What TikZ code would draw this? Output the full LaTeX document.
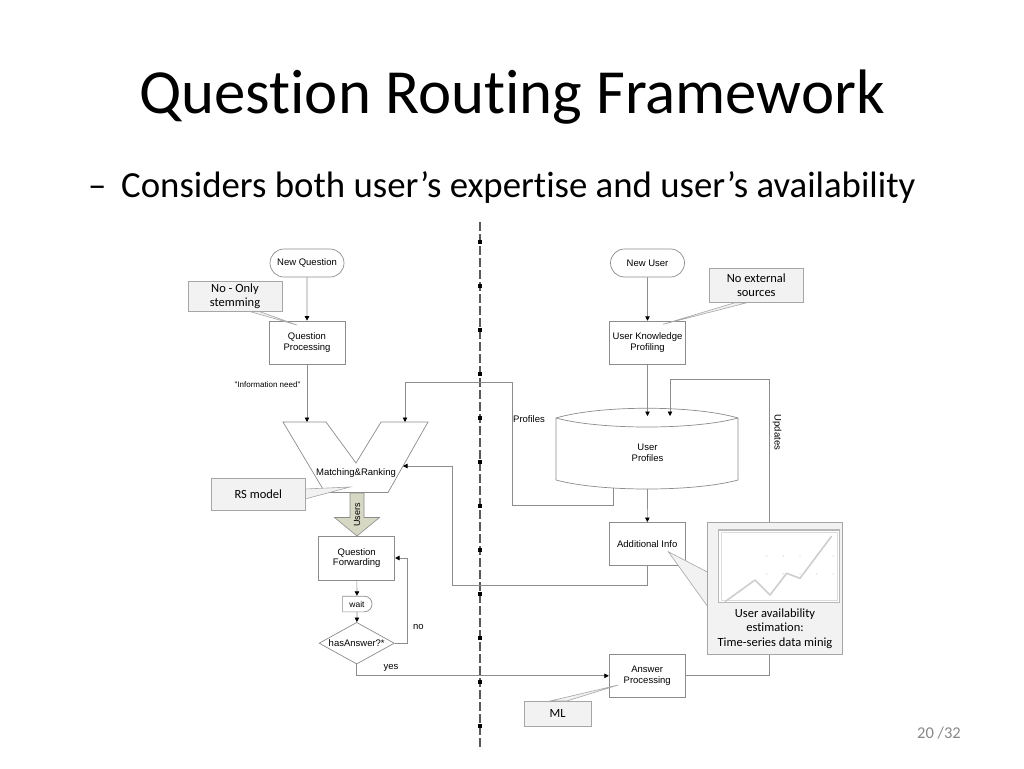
\documentclass[tikz,border=0pt]{standalone}
\usepackage{fontspec}
\setmainfont[Ligatures=NoCommon]{Carlito}
\newfontfamily\diagfont{Liberation Sans}
\usetikzlibrary{arrows.meta,shapes.geometric,shapes.misc}
\definecolor{boxline}{HTML}{8C8C8C}
\definecolor{lineg}{HTML}{8C8C8C}
\definecolor{callline}{HTML}{A6A6A6}
\definecolor{callfill}{HTML}{F2F2F2}
\definecolor{usersfill}{HTML}{D6D8C4}
\definecolor{sepline}{HTML}{595959}
\definecolor{pagegray}{HTML}{898989}

\begin{document}
\begin{tikzpicture}[x=1pt, y=-1pt,
    box/.style={draw=boxline, line width=0.7pt, fill=white, align=center, font=\diagfont\fontsize{9.5}{10.8}\selectfont, minimum width=76pt, minimum height=43pt, inner sep=1pt},
    start/.style={box, rounded rectangle, minimum height=28pt},
    note/.style={draw=callline, fill=callfill, line width=0.7pt, align=center, font=\fontsize{12.5}{14}\selectfont, inner sep=1pt},
    wedge/.style={draw=callline, fill=callfill, line width=0.6pt},
    lbl/.style={font=\diagfont\fontsize{9.5}{11}\selectfont, inner sep=0pt},
    arr/.style={draw=lineg, line width=0.7pt, -{Triangle[length=4.5pt, width=4.5pt, black]}},
    conn/.style={draw=lineg, line width=0.7pt}
]
\fill[white] (0,0) rectangle (1024,768);
\useasboundingbox (0,0) rectangle (1024,768);

\node[anchor=base, font=\fontsize{62.8}{70}\selectfont] (title) at (512,113) {Question Routing Framework};
\node[anchor=base west, inner sep=0pt, font=\fontsize{36.7}{40}\selectfont] (dash) at (88,197) {–};
\node[anchor=base west, inner sep=0pt, font=\fontsize{36.8}{40}\selectfont] (point) at (121,197) {Considers both user’s expertise and user’s availability};
\node[anchor=center, inner sep=0pt, text=pagegray, font=\fontsize{16.5}{18}\selectfont] (page) at (939,733) {20 /32};

\draw[sepline, line width=1.2pt, dash pattern=on 9pt off 3pt] (480,222) -- (480,748);
\foreach \k in {0,...,11}
  \fill[black] (478.2,{240.2+44*\k}) rectangle ++(3.6,3.6);

\node[start] (nq) at (307,263) {New Question};
\node[box] (qp) at (307,342.5) {Question\\Processing};
\node[start] (nu) at (647.5,263) {New User};
\node[box] (ukp) at (647.5,342.6) {User Knowledge\\Profiling};

\draw[draw=boxline, line width=0.7pt, fill=white] (283,422) -- (326,422) -- (356,463) -- (381,422) -- (428,422) -- (388,492.5) -- (325,492.5) -- cycle;
\node[lbl] (mr) at (356,473) {Matching\&Ranking};
\coordinate (mrin) at (307,422);
\coordinate (mrprof) at (405,422);
\coordinate (mrside) at (403,466);

\draw[draw=boxline, line width=0.7pt, fill=white] (556,418) .. controls (600,405) and (694,405) .. (738,418) -- (738,480) .. controls (694,492) and (600,492) .. (556,480) -- cycle;
\draw[draw=boxline, line width=0.7pt] (556,418) .. controls (600,430) and (694,430) .. (738,418);
\node[lbl, align=center] (up) at (647.5,453) {User\\Profiles};
\coordinate (upin) at (647.5,416);
\coordinate (upupd) at (670,416);
\coordinate (upbot) at (647.5,489);
\coordinate (upout) at (613,488);

\draw[draw=boxline, fill=usersfill, line width=0.6pt] (350,493) -- (364,493) -- (364,517.5) -- (379.5,517.5) -- (357,536) -- (334.5,517.5) -- (350,517.5) -- cycle;
\node[lbl, rotate=90, font=\diagfont\fontsize{9}{10}\selectfont] (users) at (357,515) {Users};

\node[box, minimum height=44pt] (qf) at (356.7,558) {Question\\Forwarding};
\node[box, rounded rectangle, rounded rectangle left arc=none, minimum width=29.4pt, minimum height=15.7pt, inner sep=0pt, font=\diagfont\fontsize{8.5}{10}\selectfont] (wait) at (357,604) {wait};
\node[box, diamond, aspect=1.8, inner sep=0pt, minimum width=75.3pt, minimum height=41.7pt] (ha) at (356.7,643.2) {hasAnswer?*};
\node[box] (ai) at (647.2,543.9) {Additional Info};
\node[box] (ap) at (647.2,675.8) {Answer\\Processing};

\draw[arr] (nq) -- (qp);
\draw[arr] (qp.south) -- (mrin);
\node[lbl, font=\diagfont\fontsize{8}{9}\selectfont] (need) at (267.5,385) {"Information need"};
\draw[arr] (upout) -- ++(0,17) -| (512,382) -| (mrprof);
\node[lbl, anchor=west] (prof) at (513,419) {Profiles};
\draw[arr] (ai.south) -- ++(0,20) -| (452,466) -- (mrside);
\draw[arr] (nu) -- (ukp);
\draw[arr] (ukp) -- (upin);
\draw[arr] (upbot) -- (ai);
\draw[arr] (ap.east) -| (769,379) -| (upupd);
\node[lbl, rotate=-90] (upd) at (777,432.5) {Updates};
\draw[arr] (qf) -- (wait);
\draw[arr] (wait) -- (ha);
\draw[arr] (ha.east) -- ++(12.5,0) |- (qf.east);
\node[lbl] (no) at (418.3,626.7) {no};
\draw[arr] (ha.south) |- (ap.west);
\node[lbl] (yes) at (391,668.3) {yes};

\draw[wedge] (248,311) -- (297,325) -- (258,311) -- cycle;
\node[note, minimum width=94pt, minimum height=30pt] (stem) at (235,296) {No - Only\\stemming};
\draw[wedge] (735,302.7) -- (663,324.3) -- (747,302.7) -- cycle;
\node[note, minimum width=94pt, minimum height=34.4pt] (ext) at (756.3,285.5) {No external\\sources};
\draw[wedge] (305,489) -- (350,487) -- (305,499) -- cycle;
\node[note, minimum width=93.3pt, minimum height=31.7pt] (rs) at (258.3,494.2) {RS model};
\draw[wedge] (550,701) -- (618.3,685) -- (566.7,701) -- cycle;
\node[note, minimum width=66.7pt, minimum height=25pt] (ml) at (557.7,713.5) {ML};

\draw[wedge] (707.3,572) -- (668.3,551.7) -- (707.3,606) -- cycle;
\node[note, minimum width=135pt, minimum height=131.3pt] (est) at (774.8,588.4) {};
\draw[draw=callline!80!white, line width=1.3pt, fill=white] (718.3,530) rectangle (839.3,602.7);
\draw[draw=callline!40!white, line width=0.5pt] (720.8,532.5) rectangle (836.8,600.2);
\foreach \gx in {766.7,783.3,800,816.7,833.3} {
  \fill[callline!60!white] (\gx,556) circle (0.6);
  \fill[callline!60!white] (\gx,574) circle (0.6);
}
\draw[draw=callline!55!white, line width=1.6pt, line join=round] (725,601.7) -- (755,580) -- (770,595) -- (786.7,573.3) -- (800,578.3) -- (815,558.3) -- (831.7,536);
\node[align=center, inner sep=0pt, font=\fontsize{12.5}{14.3}\selectfont] (estlbl) at (775,628.5) {User availability\\estimation:\\Time-series data minig};
\end{tikzpicture}
\end{document}
